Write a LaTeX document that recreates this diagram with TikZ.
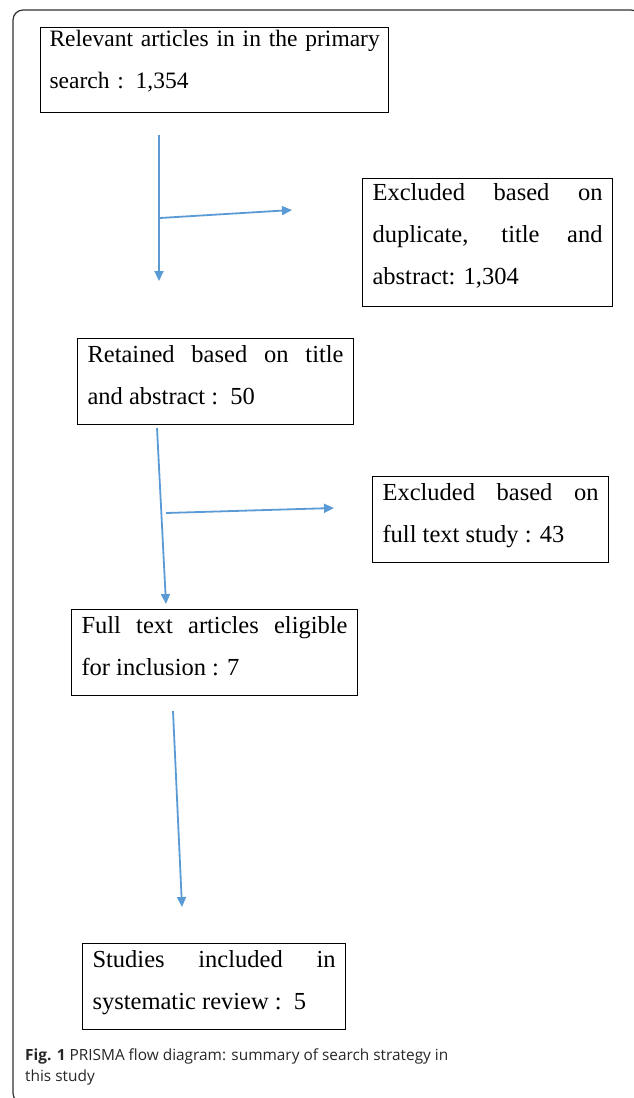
\documentclass[tikz,border=0pt]{standalone}
\usepackage{fontspec}
\setmainfont{Liberation Serif}
\newfontfamily\capfont{Open Sans}
\usetikzlibrary{arrows.meta,positioning}
\definecolor{flowblue}{RGB}{91,155,213}
\hyphenpenalty=10000
\tolerance=10000

\begin{document}
\begin{tikzpicture}[x=1pt,y=-1pt,
	box/.style={draw,line width=1.1pt,anchor=north west,align=justify,inner xsep=10pt,inner ysep=6.5pt,text depth=56pt,font=\fontsize{24.5}{42}\selectfont},
	flow/.style={flowblue,line width=1.8pt,-{Triangle[length=10pt,width=9pt]}}]
	\useasboundingbox (0,0) rectangle (633,1098);
	\draw[line width=1.2pt,black!80,rounded corners=10pt] (13,10) rectangle (641,1103);

	\node[box,text width=330pt,inner xsep=9pt,inner ysep=2.5pt,text depth=64pt,align=left,font=\fontsize{23.5}{42}\selectfont] (search) at (40,27) {\mbox{Relevant articles in in the primary}\\search : 1,354};
	\node[box,text width=230pt,inner ysep=5pt,text depth=101pt] (dup) at (362,178) {Excluded based on\linebreak duplicate, title and\linebreak abstract: 1,304};
	\node[box,text width=256pt] (title) at (77,338) {Retained based on title\linebreak and abstract :\ \ 50};
	\node[box,text width=216pt] (full) at (372,476) {Excluded based on\linebreak full text study : 43};
	\node[box,text width=266pt] (eligible) at (71,609) {Full text articles eligible\linebreak for inclusion : 7};
	\node[box,text width=243pt] (included) at (82,943) {Studies included in\linebreak systematic review :\ \ 5};

	\node[anchor=base west,align=left,inner sep=0pt,text=black!85,font=\capfont\fontsize{15.4}{21}\selectfont] (caption) at (25,1081) {\textbf{Fig. 1} PRISMA flow diagram: summary of search strategy in\\this study};

	% free ends of the arrows
	\coordinate (a1) at (159,135);
	\coordinate (a1e) at (159,281);
	\coordinate (h1) at (160,218);
	\coordinate (h1e) at (292,210);
	\coordinate (a2) at (157,428);
	\coordinate (a2e) at (166,604);
	\coordinate (h2) at (166,513);
	\coordinate (h2e) at (334,508);
	\coordinate (a3) at (173,711);
	\coordinate (a3e) at (182,907);

	\draw[flow] (a1) -- (a1e);
	\draw[flow] (h1) -- (h1e);
	\draw[flow] (a2) -- (a2e);
	\draw[flow] (h2) -- (h2e);
	\draw[flow] (a3) -- (a3e);
\end{tikzpicture}
\end{document}
